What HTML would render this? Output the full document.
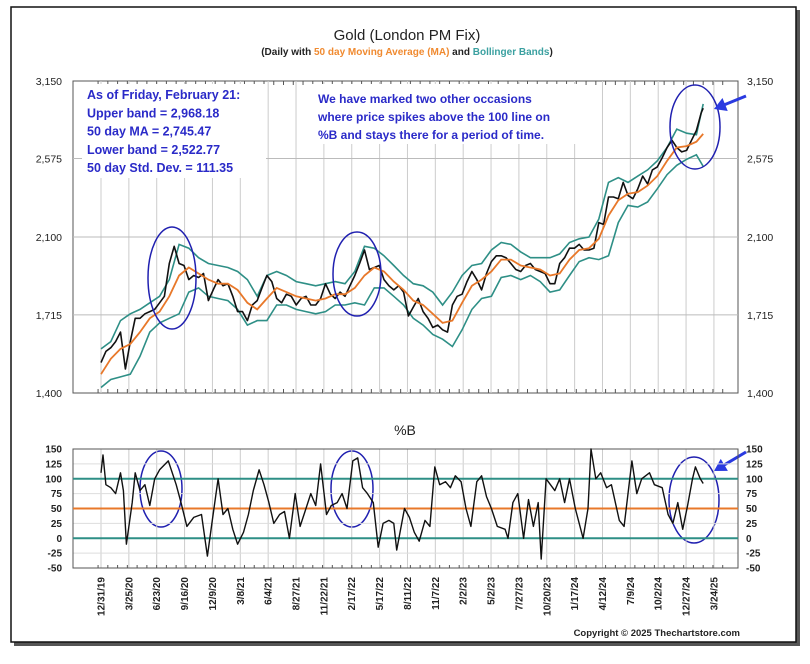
<!DOCTYPE html>
<html><head><meta charset="utf-8"><style>
body{margin:0;background:#fff;width:810px;height:664px;overflow:hidden;font-family:"Liberation Sans",Arial,sans-serif}
svg{display:block}
</style></head><body>
<svg id="chart" width="810" height="664" viewBox="0 0 810 664" xmlns="http://www.w3.org/2000/svg">
<rect x="14" y="10" width="786" height="636" fill="#555"/>
<rect x="11" y="7" width="785" height="635" fill="#fff" stroke="#111" stroke-width="1.5"/>
<text x="407" y="40" text-anchor="middle" font-size="15" fill="#222">Gold (London PM Fix)</text>
<text x="407" y="55" text-anchor="middle" font-size="10" font-weight="bold" fill="#222">(Daily with <tspan fill="#f08a30">50 day Moving Average (MA)</tspan> and <tspan fill="#3aa0a0">Bollinger Bands</tspan>)</text>
<g id="topPanel"></g>
<g id="botPanel"></g>
<text x="405" y="435" text-anchor="middle" font-size="14" fill="#222">%B</text>
<text x="740" y="636" text-anchor="end" font-size="9.5" font-weight="bold" fill="#222">Copyright © 2025 Thechartstore.com</text>
</svg>
<script>
const dateLabels=["12/31/19","3/25/20","6/23/20","9/16/20","12/9/20","3/8/21","6/4/21","8/27/21","11/22/21","2/17/22","5/17/22","8/11/22","11/7/22","2/2/23","5/2/23","7/27/23","10/20/23","1/17/24","4/12/24","7/9/24","10/2/24","12/27/24","3/24/25"];
const priceTicks=[3150,2575,2100,1715,1400];
const pbTicks=[150,125,100,75,50,25,0,-25,-50];
const lastT=61.7;
// price, half-month steps (t in months from 12/31/19), last point at lastT
const price=[1515,1560,1575,1600,1640,1490,1600,1700,1700,1720,1730,1740,1770,1800,1960,2050,1960,1950,1880,1900,1890,1910,1780,1830,1880,
1850,1860,1800,1730,1730,1690,1760,1780,1840,1900,1870,1790,1770,1810,1800,1760,1790,1800,1760,1760,1790,1860,1810,1790,
1820,1800,1850,1900,1960,2030,1930,1940,1950,1880,1850,1830,1850,1820,1710,1750,1790,1730,1700,1660,1670,1650,1640,1760,
1800,1810,1870,1920,1880,1830,1910,1970,2000,2000,1990,1960,1930,1920,1950,1960,1930,1920,1910,1860,1860,1960,1990,2040,
2040,2060,2030,2030,2040,2180,2170,2330,2330,2320,2420,2340,2320,2380,2460,2410,2500,2520,2580,2650,2700,2650,2620,2630,
2700,2770,2900,2935];
// monthly MA and Bollinger bands (t = 0..61, last at lastT)
const ma=[1470,1530,1570,1590,1640,1700,1730,1800,1900,1940,1910,1880,1860,1860,1830,1770,1740,1790,1840,1820,1800,1790,1780,1790,1810,1810,1840,1900,1940,1920,1870,1830,1780,1760,1720,1680,1690,1770,1850,1880,1920,1980,1980,1950,1940,1930,1900,1910,1980,2030,2040,2090,2220,2310,2350,2360,2400,2460,2560,2650,2660,2690,2745];
const upper=[1570,1600,1690,1720,1740,1770,1800,1880,2060,2040,1990,1960,1950,1940,1920,1880,1800,1900,1920,1900,1870,1860,1850,1860,1870,1860,1920,2050,2040,2000,1950,1900,1860,1850,1820,1760,1820,1900,1950,1960,2030,2070,2060,2020,1990,1990,1990,2010,2070,2090,2100,2200,2420,2450,2420,2460,2500,2560,2650,2780,2750,2740,2968];
const lower=[1420,1450,1460,1470,1540,1640,1680,1700,1720,1820,1840,1800,1790,1780,1740,1670,1690,1690,1760,1760,1740,1730,1720,1730,1760,1760,1770,1760,1840,1840,1800,1760,1700,1670,1630,1610,1580,1650,1740,1790,1800,1890,1900,1880,1900,1870,1820,1830,1900,1970,1990,1980,2000,2180,2280,2270,2300,2380,2470,2530,2570,2600,2523];
// %B
const pbT=[0,0.2,0.5,1,1.5,2,2.3,2.6,3.2,3.5,4,4.5,5,5.5,6,6.9,7.7,8.2,8.8,9.5,10.3,10.9,11.4,12,12.5,13,13.5,14,14.6,15.1,15.6,16.2,16.7,17.2,17.7,18.3,18.8,19.3,19.9,20.4,20.9,21.5,22,22.5,23.1,23.6,24.2,24.7,25.2,25.8,26.3,26.8,27.3,27.9,28.4,28.9,29.5,30,30.3,31.1,31.6,32.1,32.6,33.2,33.7,34.2,34.7,35.3,35.8,36.3,36.9,37.4,37.9,38.5,39,39.5,40,40.6,41.4,41.7,42.2,42.7,43.3,43.8,44.3,44.8,45.1,45.6,46.5,47,47.5,48,48.6,49.4,49.9,50.2,50.7,51.2,51.8,52.3,53.1,53.6,54.4,54.9,55.4,56.2,56.7,57.5,58.1,58.6,59.1,59.6,60.1,60.6,60.9,61.4,61.7];
const pbV=[110,140,90,85,75,110,80,-10,60,110,80,90,55,100,115,130,90,60,20,35,40,-30,30,100,40,50,15,-10,10,40,80,115,90,60,25,40,45,0,75,20,45,75,55,125,40,55,60,75,50,130,135,85,75,60,-15,25,30,25,-20,50,35,10,-5,30,20,120,90,95,85,105,95,50,20,95,105,70,50,20,15,0,60,75,0,65,20,60,-35,100,80,100,60,100,50,0,50,150,100,110,85,90,30,20,130,75,100,110,90,85,40,25,60,15,55,100,120,100,92];

const NS="http://www.w3.org/2000/svg";
const X0=101, XPM=9.76, PL=73, PR=738;
const xT=t=>X0+t*XPM;
const TY0=81, TY1=393, LN0=Math.log(3150), LN1=Math.log(1400);
const yP=v=>TY0+(LN0-Math.log(v))/(LN0-LN1)*(TY1-TY0);
const BY0=449, BY1=568;
const yB=v=>BY0+(150-v)/200*(BY1-BY0);
function mk(tag,attrs,parent){const e=document.createElementNS(NS,tag);for(const k in attrs)e.setAttribute(k,attrs[k]);parent.appendChild(e);return e;}
const gTop=document.getElementById('topPanel'), gBot=document.getElementById('botPanel');
const lbl=(i)=>xT(i*(62.8/22));

let r=mk('rect',{x:PL,y:TY0,width:PR-PL,height:TY1-TY0,fill:'none',stroke:'#555','stroke-width':1},gTop);


dateLabels.forEach((d,i)=>{const x=lbl(i);
 let g=mk('line',{x1:x,x2:x,y1:TY0,y2:TY1,stroke:'#ccc','stroke-width':1},gTop);
 
 
 let g2=mk('line',{x1:x,x2:x,y1:BY0,y2:BY1,stroke:'#ccc','stroke-width':1},gBot);
 
 
});
for(let t=0;t<=64;t++){const x=xT(t-0.3);if(x<PL||x>PR)continue;
 let a=mk('line',{x1:x,x2:x,y1:TY0,y2:TY0+4,stroke:'#555'},gTop);
 
 
 let b=mk('line',{x1:x,x2:x,y1:TY1,y2:TY1-4,stroke:'#555'},gTop);
 
 
 let c=mk('line',{x1:x,x2:x,y1:BY1,y2:BY1-3,stroke:'#555'},gBot);
 
 
}
priceTicks.forEach(v=>{const y=yP(v);
 if(v<3150&&v>1400){let g=mk('line',{x1:PL,x2:PR,y1:y,y2:y,stroke:'#bbb'},gTop);
  
  }
 let s=v.toLocaleString('en-US');
 let t1=mk('text',{x:62,y:y+4,'text-anchor':'end','font-size':10.5,fill:'#222'},gTop);t1.textContent=s;
 
 
 let t2=mk('text',{x:747,y:y+4,'font-size':10.5,fill:'#222'},gTop);t2.textContent=s;
 
 
});
let wb=mk('rect',{x:82,y:84,width:184,height:94,fill:'#fff'},gTop);


let wb2=mk('rect',{x:312,y:84,width:270,height:60,fill:'#fff'},gTop);



function path(ts,vs,yf,attrs,parent,name){let d='';vs.forEach((v,i)=>{d+=(i?'L':'M')+xT(ts[i]).toFixed(1)+','+yf(v).toFixed(1);});
 const p=mk('path',Object.assign({d:d,fill:'none'},attrs),parent);
 
 
 return p;}
const priceT=price.map((v,i)=>i===price.length-1?lastT:i*0.5);
const bandT=ma.map((v,i)=>i===ma.length-1?lastT:i);
path(bandT,upper,yP,{stroke:'#2e8f86','stroke-width':1.6},gTop,'upper-band');
path(bandT,lower,yP,{stroke:'#2e8f86','stroke-width':1.6},gTop,'lower-band');
path(priceT,price,yP,{stroke:'#111','stroke-width':1.6,'stroke-linejoin':'round'},gTop,'price-line');
path(bandT,ma,yP,{stroke:'#e8782a','stroke-width':1.8},gTop,'ma-line');

pbTicks.forEach(v=>{const y=yB(v);
 let g=mk('line',{x1:PL,x2:PR,y1:y,y2:y,stroke:'#ddd'},gBot);
 
 
 let t1=mk('text',{x:62,y:y+3.5,'text-anchor':'end','font-size':10,'font-weight':'bold',fill:'#222'},gBot);t1.textContent=v;
 
 
 let t2=mk('text',{x:746,y:y+3.5,'font-size':10,'font-weight':'bold',fill:'#222'},gBot);t2.textContent=v;
 
 
});
let br=mk('rect',{x:PL,y:BY0,width:PR-PL,height:BY1-BY0,fill:'none',stroke:'#555'},gBot);


[[100,'#2e8f86','line-100'],[50,'#e8782a','line-50'],[0,'#2e8f86','line-0']].forEach(a=>{
 let l=mk('line',{x1:PL,x2:PR,y1:yB(a[0]),y2:yB(a[0]),stroke:a[1],'stroke-width':2},gBot);
 
 });
path(pbT,pbV,yB,{stroke:'#111','stroke-width':1.4,'stroke-linejoin':'round'},gBot,'pctb-line');
dateLabels.forEach((d,i)=>{const x=lbl(i);
 let t=mk('text',{x:0,y:0,transform:`translate(${x+3.5},577) rotate(-90)`,'text-anchor':'end','font-size':10,'font-weight':'bold',fill:'#222'},gBot);
 t.textContent=d;
 
 
});
const stats=["As of Friday, February 21:","Upper band = 2,968.18","50 day MA = 2,745.47","Lower band = 2,522.77","50 day Std. Dev. = 111.35"];
stats.forEach((s,i)=>{let t=mk('text',{x:87,y:99+i*18.3,'font-size':12.5,'font-weight':'bold',fill:'#2a2ac8'},gTop);t.textContent=s;
 
 });
const note=["We have marked two other occasions","where price spikes above the 100 line on","%B and stays there for a period of time."];
note.forEach((s,i)=>{let t=mk('text',{x:318,y:103+i*18,'font-size':12,'font-weight':'bold',fill:'#2a2ac8'},gTop);t.textContent=s;
 
 });
[[172,278,24,51],[357,274,24,42],[695,127,25,42],[161,489,21,38],[352,489,21,38],[694,500,25,43]].forEach(e=>{
 let el=mk('ellipse',{cx:e[0],cy:e[1],rx:e[2],ry:e[3],fill:'none',stroke:'#2020b0','stroke-width':1.5},gTop);
 
 });
[[746,96,714,109],[746,452,714,471]].forEach(a=>{
 const dx=a[2]-a[0],dy=a[3]-a[1],L=Math.hypot(dx,dy),ux=dx/L,uy=dy/L;
 let ln=mk('line',{x1:a[0],y1:a[1],x2:a[2]-ux*8,y2:a[3]-uy*8,stroke:'#2a3ae0','stroke-width':3},gTop);
 
 
 const bx=a[2]-ux*12,by=a[3]-uy*12;
 let hd=mk('polygon',{points:`${a[2]},${a[3]} ${bx-uy*7},${by+ux*7} ${bx+uy*7},${by-ux*7}`,fill:'#2a3ae0'},gTop);
 
 
});
</script>
</body></html>
